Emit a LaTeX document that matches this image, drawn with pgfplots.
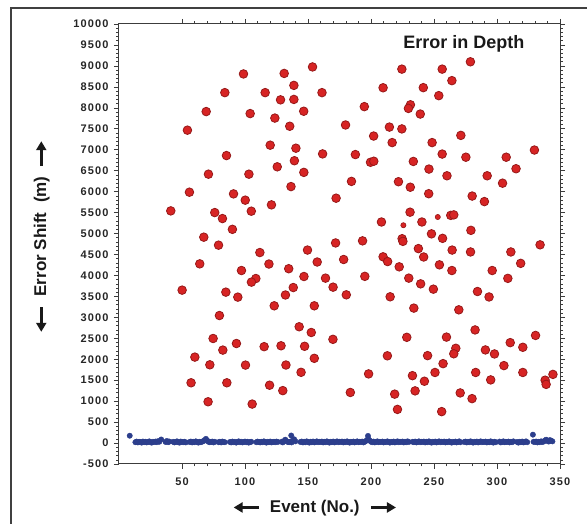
\documentclass[border=0pt]{standalone}
\usepackage{pgfplots}
\pgfplotsset{compat=1.18}
\usepackage{pgfplotstable}
\usepackage{fontspec}
\setmainfont{Liberation Sans}
\newfontfamily\tickfont[LetterSpace=10]{Liberation Sans}
\usetikzlibrary{arrows.meta}
\definecolor{redpt}{RGB}{215,36,36}
\definecolor{redrim}{RGB}{150,25,25}
\definecolor{bluept}{RGB}{44,62,140}
\definecolor{axgray}{RGB}{60,60,60}

\pgfplotstableread{
x y
98.8 8808
84 8362
116 8362
69.2 7910
104.1 7862
54.3 7466
120 7108
85.3 6860
71 6416
103.1 6416
55.9 5986
90.9 5946
100.2 5796
41.1 5540
76 5500
82.1 5357
105 5533
121 5684
90 5100
67.3 4913
79 4722
111.8 4546
64.1 4276
119 4272
97.2 4117
108.6 3926
105.1 3840
50.1 3649
84.8 3601
94.3 3482
79.7 3043
74.7 2495
93.2 2375
115.2 2300
82.4 2218
60.2 2051
72.1 1867
100.4 1860
119.5 1380
57.2 1438
85.6 1438
70.7 985
105.7 930
153.6 8975
131.1 8820
138.8 8535
128.2 8190
138.8 8200
161.1 8362
146.6 7918
123.7 7755
135.5 7560
140.4 7036
139.2 6737
125.6 6592
146.7 6459
136.5 6120
161.6 6900
179.8 7590
194.7 8028
209.6 8478
224.5 8923
231.3 8072
229.7 7985
214.6 7540
224.5 7496
202.1 7326
216.8 7170
187.6 6884
199.6 6700
202.2 6725
233.6 6720
184.5 6244
221.8 6236
231.2 6105
172.3 5843
231 5509
208.3 5275
278.9 9098
256.5 8923
264.2 8648
241.5 8481
253.8 8290
239.1 7851
271.3 7342
248.5 7170
256.5 6896
275.3 6821
246 6538
307.3 6821
329.7 6992
315.1 6546
260.3 6378
292.2 6378
304.4 6201
245.8 5950
280.3 5894
290 5762
240.4 5275
263.3 5433
265.7 5445
279.3 5076
171.9 4775
193.3 4825
224.7 4876
225.3 4813
149.6 4605
134.7 4160
157.3 4320
178.3 4380
209.6 4444
213.2 4331
222.4 4205
230 3935
146.8 3974
163.9 3935
138.3 3711
169.9 3720
132.1 3533
180.4 3537
195.1 3978
215.2 3490
123.2 3275
155 3275
234 3220
143 2775
152.6 2638
169.8 2475
228.4 2523
128.6 2321
147.3 2309
155 2022
132.5 1862
144.5 1688
213 2082
198.1 1650
232.9 1608
130 1251
183.6 1207
218.8 1167
235 1245
221 803
248 4992
256.8 4885
237.6 4640
241.8 4440
264.4 4605
279 4560
311 4560
334.2 4730
318.8 4288
254.3 4253
264.2 4117
296.2 4117
308.6 3930
239.4 3799
249.5 3672
284.5 3616
293.7 3486
269.7 3179
282.6 2699
259.9 2528
330.6 2568
267.3 2261
265.7 2130
290.8 2222
298 2126
310.5 2396
320.5 2285
244.9 2086
257.2 1895
305.5 1848
250.8 1684
283.1 1684
320.5 1684
344.4 1638
338.2 1500
339 1400
295 1507
242.4 1475
270.8 1196
280.2 1060
256.1 750
}\redtable

\pgfplotstableread{
x y
225.7 5198
253 5394
}\redsmall

\begin{document}
\begin{tikzpicture}[x=1pt,y=1pt]
\path[use as bounding box] (0,0) rectangle (587,524);
\draw[line width=1.5pt, color=black!75] (11,0) -- (11,516) -- (587,516);
\begin{axis}[
  at={(119pt,60pt)}, anchor=south west,
  scale only axis, width=441pt, height=440pt,
  xmin=0, xmax=350, ymin=-500, ymax=10000,
  scaled y ticks=false, scaled x ticks=false,
  xtick={50,100,150,200,250,300,350},
  xticklabels={50,100,150,200,250,300,350},
  ytick={-500,0,500,1000,1500,2000,2500,3000,3500,4000,4500,5000,5500,6000,6500,7000,7500,8000,8500,9000,9500,10000},
  yticklabels={-500,0,500,1000,1500,2000,2500,3000,3500,4000,4500,5000,5500,6000,6500,7000,7500,8000,8500,9000,9500,10000},
  minor x tick num=4, minor y tick num=4,
  tick align=outside,
  major tick length=5pt, minor tick length=2.5pt,
  axis line style={line width=1pt, axgray},
  every tick/.style={axgray, line width=0.6pt},
  ticklabel style={font=\tickfont\bfseries\fontsize{11}{13}\selectfont, text=black!85},
  xticklabel style={yshift=-5pt},
  yticklabel style={xshift=-2pt},
  every axis x label/.style={at={(axis description cs:0.444,-0.1)}, anchor=center},
  every axis y label/.style={at={(axis description cs:-0.175,0.517)}, rotate=90, anchor=center},
  label style={font=\bfseries\fontsize{17}{20}\selectfont, text=black!90},
  xlabel={\tikz[baseline=-0.55ex]\draw[line width=2.6pt,{Triangle[length=9pt,width=10pt]}-] (0,0)--(25pt,0);\hspace{10pt}Event (No.)\hspace{10pt}\tikz[baseline=-0.55ex]\draw[line width=2.6pt,-{Triangle[length=9pt,width=10pt]}] (0,0)--(25pt,0);},
  ylabel={\tikz[baseline=-0.55ex]\draw[line width=2.6pt,{Triangle[length=9pt,width=10pt]}-] (0,0)--(25pt,0);\hspace{9pt}Error Shift~~(m)\hspace{9pt}\tikz[baseline=-0.55ex]\draw[line width=2.6pt,-{Triangle[length=9pt,width=10pt]}] (0,0)--(25pt,0);},
  clip=false,
]
\addplot[only marks, mark=*, mark size=2.7pt, mark options={fill=bluept, draw=bluept}] coordinates {
(8.5,175) (136.7,180) (197.6,170) (328.5,200)
(13,20)(14,35)(15,15)(16,30)(17,25)(18,10)(19,35)(20,20)(21,30)(22,15)(23,25)(24,40)(25,20)(26,10)(27,30)(28,25)(29,35)(30,20)(31,45)(32,30)(33.5,85)
(37,25)(38,50)(39,20)(40,35)
(43,30)(44,15)(45,25)(46,40)(47,20)(48,10)(49,35)(50,25)(51,20)(52,30)(53,15)
(56,25)(57,35)(58,15)(59,30)(60,20)(61,40)(62,25)(63,10)(64,30)(65,20)(66,35)(67,45)(68,70)(69,100)(70,60)(71,30)(72,20)(73,25)(74,35)(75,15)(76,30)
(79,20)(80,30)(81,15)(82,35)(83,25)(84,20)
(88,25)(89,15)(90,35)(91,20)(92,30)(93,10)(94,25)(95,40)(96,20)(97,30)(98,15)(99,25)(100,35)(101,20)(102,30)(103,10)(104,25)(105,30)
(109,20)(110,35)(111,25)(112,15)(113,30)(114,20)(115,40)(116,25)(117,10)(118,30)(119,20)(120,35)(121,15)(122,25)(123,30)(124,20)(125,35)(126,25)
(129,30)(130,15)(131,50)(132,80)(133,45)(134,25)(135,20)(136,35)(137,15)(138,60)(139,90)(140,40)
(144,25)(145,35)(146,15)(147,30)(148,20)(149,40)(150,25)(151,10)(152,30)(153,20)(154,35)(155,15)(156,25)(157,40)(158,20)(159,30)
(160,25)(161,35)(162,15)(163,30)(164,20)(165,40)(166,25)(167,10)(168,30)(169,20)(170,35)(171,15)(172,25)(173,40)(174,20)(175,30)
(176,25)(177,35)(178,15)(179,30)(180,20)(181,40)(182,25)(183,10)(184,30)(185,20)(186,35)(187,15)(188,25)(189,40)(190,20)(191,30)
(192,25)(193,35)(194,15)(195,30)(196,50)(197,75)(198,90)(199,60)(200,30)(201,20)(202,35)(203,15)(204,25)(205,40)(206,20)(207,30)
(208,25)(209,35)(210,15)(211,30)(212,20)(213,40)(214,25)(215,10)(216,30)(217,20)(218,35)(219,15)(220,25)(221,40)(222,20)(223,30)
(224,25)(225,35)(226,15)(227,30)(228,20)(229,40)(230,25)
(233,30)(234,20)(235,35)(236,15)(237,25)(238,40)(239,20)(240,30)(241,25)(242,35)(243,15)(244,30)(245,20)(246,40)(247,25)(248,10)(249,30)(250,20)(251,35)(252,15)(253,25)(254,40)(255,20)(256,30)(257,25)(258,35)(259,15)(260,30)(261,20)(262,40)(263,25)(264,10)(265,30)(266,20)(267,35)(268,15)(269,25)(270,40)(271,20)
(274,25)(275,35)(276,15)(277,30)(278,20)(279,40)(280,25)(281,10)(282,30)(283,20)(284,35)(285,15)(286,25)(287,40)(288,20)(289,30)(290,25)(291,35)(292,15)(293,30)(294,20)(295,40)(296,25)(297,10)(298,30)(299,20)
(302,35)(303,15)(304,25)(305,40)(306,20)(307,30)(308,25)(309,35)(310,15)(311,30)(312,20)(313,40)
(316,25)(317,10)(318,30)(319,20)(320,35)(321,15)(322,25)(323,40)(324,20)
(329,30)(330,25)(331,35)(332,15)(333,30)(334,20)(335,40)(336,25)(337,35)(338,60)(339,80)(340,50)(341,35)(342,70)(343,55)(344,40)
};
\addplot[only marks, mark=*, mark size=4.3pt, mark options={fill=redpt, draw=redrim, line width=0.8pt}] table[x=x,y=y] {\redtable};
\addplot[only marks, mark=*, mark size=2.6pt, mark options={fill=redpt, draw=redrim, line width=0.6pt}] table[x=x,y=y] {\redsmall};
\node[font=\bfseries\fontsize{18}{21}\selectfont, text=black!90, anchor=center] at (rel axis cs:0.782,0.954) {Error in Depth};
\end{axis}
\end{tikzpicture}
\end{document}
